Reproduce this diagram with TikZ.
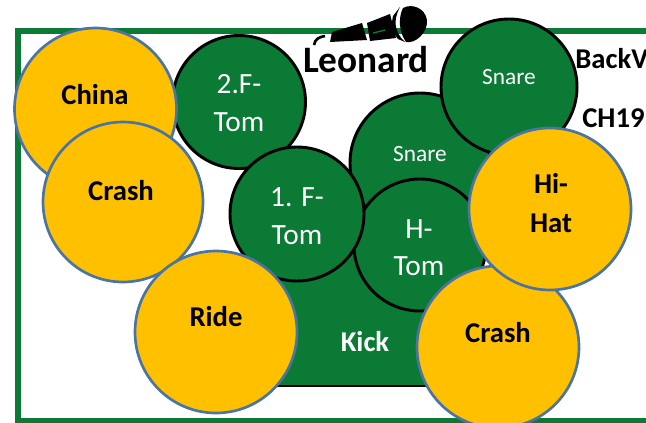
\documentclass[tikz,border=0pt]{standalone}
\usepackage{fontspec}
\setmainfont{Carlito}
\usetikzlibrary{positioning}
\definecolor{drumGreen}{HTML}{0A7A35}
\definecolor{cymbalYellow}{HTML}{FFC000}
\definecolor{cymbalBlue}{HTML}{4A74A3}
\tikzset{
  drum/.style={circle, draw=black, line width=2.2pt, fill=drumGreen, inner sep=0pt},
  drumtext/.style={text=white, inner sep=0pt, align=center, font=\fontsize{22}{28}\selectfont},
  snaretag/.style={text=white, inner sep=0pt, font=\fontsize{17.5}{20}\selectfont},
  cymbal/.style={circle, draw=cymbalBlue, line width=2pt, fill=cymbalYellow, inner sep=0pt},
  tag/.style={text=black, inner sep=0pt, align=center, font=\bfseries\fontsize{21.5}{29}\selectfont}
}
\begin{document}
\begin{tikzpicture}[x=0.75pt, y=-0.75pt]
    \useasboundingbox (0,0) rectangle (646,422);
    \begin{scope}
    \clip (0,0) rectangle (646,422);
    % frame
    \node[draw=drumGreen, line width=4.5pt, minimum width=660*0.75pt, minimum height=390*0.75pt, inner sep=0pt, anchor=north west] (frame) at (15,28) {};
    % microphone
    \fill[black] (330,42) -- (332,32) -- (362,23) -- (367,40) -- cycle;
    \fill[black] (370,41) -- (367,23) -- (390,14) -- (396,38) -- cycle;
    \draw[drumGreen, line width=1pt] (373,33) -- (385,30);
    \fill[black] (393,16) -- (400,7) .. controls (393,20) and (394,32) .. (405,42) -- (398,39) .. controls (392,32) and (391,24) .. (393,16) -- cycle;
    \fill[black] (403,8) .. controls (412,3) and (425,8) .. (427,20) .. controls (428,32) and (416,44) .. (406,42) .. controls (399,32) and (398,18) .. (403,8) -- cycle;
    \draw[black, line width=2pt] (314,45) .. controls (315,39) and (319,37) .. (325,36);
    % drums
    \node[draw=black, line width=2.2pt, fill=drumGreen, minimum width=210*0.75pt, minimum height=136*0.75pt, inner sep=0pt] (kick) at (365,318) {};
    \node[tag, text=white] (kicktext) at (365,342) {Kick};
    \node[drum, minimum size=140*0.75pt] (snareback) at (420,163) {};
    \node[snaretag] (snarebacktext) at (420,154) {Snare};
    \node[drum, minimum size=133*0.75pt] (ftomtwo) at (239,102) {};
    \node[drumtext] (ftomtwotext) at (239,103) {2.F-\\Tom};
    \node[drum, minimum size=132*0.75pt] (htom) at (420,245) {};
    \node[drumtext] (htomtext) at (419,248) {H-\\Tom};
    \node[drum, minimum size=134*0.75pt] (ftomone) at (297,214) {};
    \node[drumtext] (ftomonetext) at (297,216) {1. F-\\Tom};
    \node[drum, minimum size=136*0.75pt] (snare) at (509,87) {};
    \node[snaretag] (snaretext) at (509,77) {Snare};
    % cymbals
    \node[cymbal, minimum size=162*0.75pt] (china) at (95.5,109) {};
    \node[tag] (chinatext) at (95,95) {China};
    \node[cymbal, minimum size=160*0.75pt] (crashleft) at (123,202) {};
    \node[tag] (crashlefttext) at (121,191) {Crash};
    \node[cymbal, minimum size=162*0.75pt] (ride) at (216,332) {};
    \node[tag] (ridetext) at (216,317) {Ride};
    \node[cymbal, minimum size=162*0.75pt] (crashright) at (498,347) {};
    \node[tag] (crashrighttext) at (498,333) {Crash};
    \node[cymbal, minimum size=162*0.75pt] (hihat) at (550,209) {};
    \node[tag] (hihattext) at (551,203) {Hi-\\Hat};
    % labels
    \node[tag, font=\bfseries\fontsize{28}{30}\selectfont] (leonard) at (366,60) {Leonard};
    \node[tag, anchor=west] (backv) at (575,59) {BackV};
    \node[tag, anchor=west] (chnine) at (582,118) {CH19};
    \end{scope}
  \end{tikzpicture}
\end{document}
